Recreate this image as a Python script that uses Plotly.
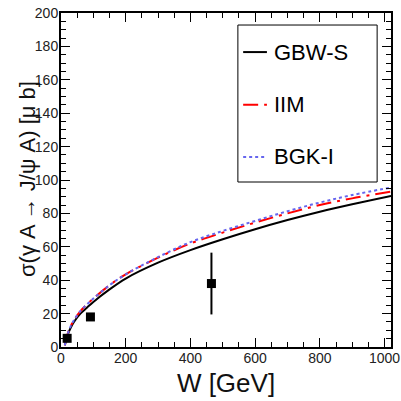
import plotly.graph_objects as go

# Model curves: sigma(gamma A -> J/psi A) in microbarn versus W in GeV
w_grid = [12, 15, 20, 30, 40, 60, 80, 100, 150, 200, 300, 400, 500, 600, 700, 800, 900, 1020]
gbw_s = [1.0, 3.5, 7.0, 11.5, 15.0, 20.0, 23.5, 27.0, 34.5, 41.0, 50.5, 58.0, 64.5, 70.5, 76.0, 81.0, 85.5, 90.5]
iim = [1.0, 4.0, 7.5, 12.5, 16.0, 21.5, 25.5, 29.0, 37.0, 43.5, 53.5, 62.0, 68.5, 74.5, 80.0, 85.0, 89.0, 93.0]
bgk_i = [1.0, 4.0, 7.5, 12.5, 16.0, 21.5, 25.5, 29.0, 37.0, 43.5, 53.8, 62.8, 69.5, 75.5, 81.3, 86.5, 91.0, 95.5]

# Measured points with uncertainties
data_w = [19, 91, 465]
data_sigma = [5.2, 18.0, 38.0]
data_err = [1.0, 1.5, 18.5]

# Legend entries: label, colour, dash style
legend_labels = ["GBW-S", "IIM", "BGK-I"]
legend_colors = ["black", "#ff0000", "#6666ee"]
legend_dashes = ["solid", "longdashdot", "dot"]

font_family = "Liberation Sans, Arial, Helvetica, sans-serif"

fig = go.Figure()
for name, ys, color, dash in zip(legend_labels, [gbw_s, iim, bgk_i], legend_colors, legend_dashes):
    fig.add_trace(go.Scatter(x=w_grid, y=ys, mode="lines", name=name, showlegend=False,
                             line=dict(color=color, width=2, dash=dash, shape="spline")))
fig.add_trace(go.Scatter(x=data_w, y=data_sigma, mode="markers", showlegend=False,
                         marker=dict(symbol="square", size=9, color="black"),
                         error_y=dict(type="data", array=data_err, color="black",
                                      thickness=2, width=0)))

axis_common = dict(
    showline=True, linecolor="black", linewidth=2, mirror="allticks",
    ticks="inside", ticklen=9, tickwidth=1, tickcolor="black",
    showgrid=False, zeroline=False, automargin=False,
    tickfont=dict(family=font_family, size=14, color="#222"),
)

fig.update_xaxes(range=[0, 1020], tick0=0, dtick=200, ticklabelstandoff=-3,
                 minor=dict(ticks="inside", ticklen=5, dtick=50, tickcolor="black"),
                 title=dict(text="W [GeV]", standoff=9,
                            font=dict(family=font_family, size=26, color="#111")),
                 **axis_common)
fig.update_yaxes(range=[0, 200], tick0=0, dtick=20, ticklabelstandoff=-2,
                 minor=dict(ticks="inside", ticklen=5, dtick=5, tickcolor="black"),
                 **axis_common)

# Vertical axis title, placed across the tick-label column
fig.add_annotation(text="σ(γ A → J/ψ A) [μ b]", xref="paper", yref="paper",
                   x=-0.10, y=0.503, xanchor="center", yanchor="middle", showarrow=False,
                   textangle=-90, font=dict(family=font_family, size=22, color="#111"))

# Legend box with line samples and labels
box_x0, box_x1, box_y0, box_y1 = 0.536, 0.958, 0.494, 0.964
fig.add_shape(type="rect", xref="paper", yref="paper", x0=box_x0, x1=box_x1,
              y0=box_y0, y1=box_y1, line=dict(color="black", width=1), fillcolor="white",
              layer="above")
entry_y = [0.883, 0.725, 0.569]
for label, color, dash, ey in zip(legend_labels, legend_colors, legend_dashes, entry_y):
    fig.add_shape(type="line", xref="paper", yref="paper", x0=0.552, x1=0.624, y0=ey, y1=ey,
                  line=dict(color=color, width=2, dash=dash), layer="above")
    fig.add_annotation(text=label, xref="paper", yref="paper", x=0.640, y=ey,
                       xanchor="left", yanchor="middle", showarrow=False,
                       font=dict(family=font_family, size=22, color="black"))

fig.update_layout(
    width=401, height=401,
    margin=dict(l=61, r=10, t=13, b=54, autoexpand=False),
    paper_bgcolor="white", plot_bgcolor="white",
    showlegend=False,
)

fig.write_html("out.html")
